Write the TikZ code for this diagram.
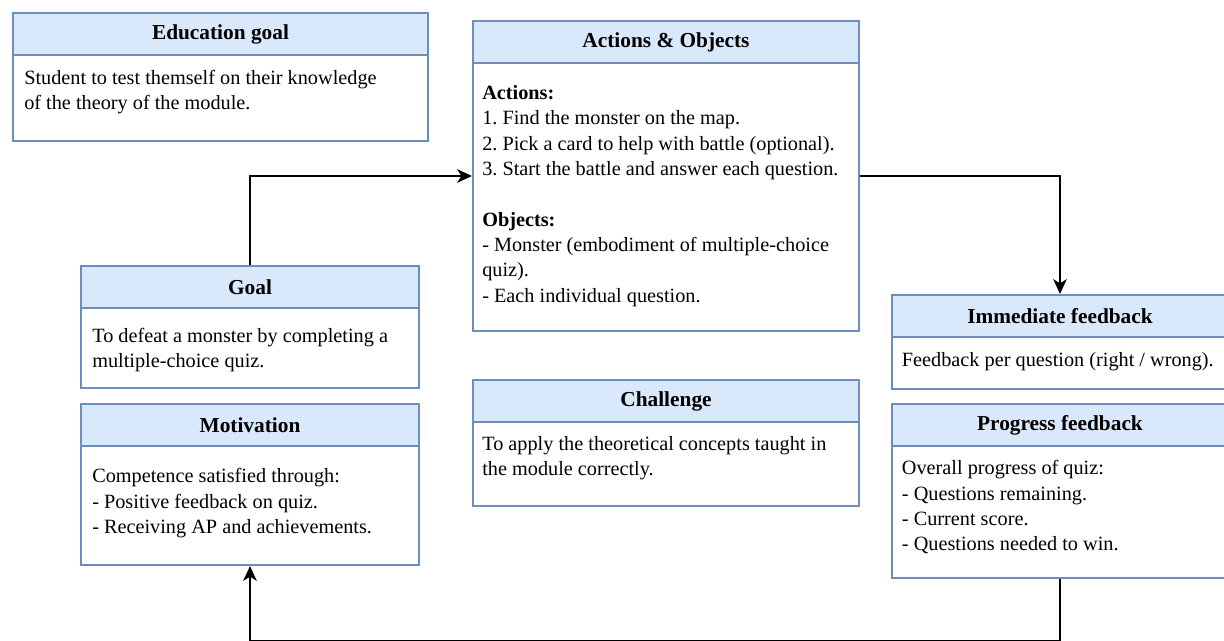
\documentclass[tikz,border=0pt]{standalone}
\usepackage{fontspec}
\setmainfont{Liberation Serif}
\usetikzlibrary{arrows.meta,positioning}
\definecolor{laneline}{HTML}{6C8EBF}
\definecolor{lanefill}{HTML}{DAE8FC}
\frenchspacing

\tikzset{
  lane/.style={draw=laneline,fill=white,line width=1.5pt,inner sep=0pt,
    anchor=north west},
  lanehead/.style={draw=laneline,fill=lanefill,line width=1.5pt,inner sep=0pt,
    anchor=north,minimum height=31.5pt,font=\fontsize{16}{19}\selectfont\bfseries},
  lanetext/.style={inner sep=0pt,align=left,
    font=\fontsize{15.2}{19}\selectfont},
  flow/.style={-{Stealth[length=11pt,width=10pt,inset=3pt]},line width=2pt,black}
}

\begin{document}
\begin{tikzpicture}[x=0.75pt,y=-0.75pt]
    \useasboundingbox (0,0) rectangle (1224,641);
    % education goal
    \node[lane,minimum width=311.25pt,minimum height=96pt] (edu) at (12,12) {};
    \node[lanehead,minimum width=311.25pt] (eduh) at (edu.north) {Education goal};
    \node[lanetext,below right=10.5pt and 9pt of eduh.south west]
      {Student to test themself on their knowledge\\of the theory of the module.};
    % actions and objects
    \node[lane,minimum width=289.5pt,minimum height=232.5pt] (act) at (472,20) {};
    \node[lanehead,minimum width=289.5pt] (acth) at (act.north) {Actions \& Objects};
    \node[lanetext,below right=16pt and 7.5pt of acth.south west]
      {\textbf{Actions:}\\
       1. Find the monster on the map.\\
       2. Pick a card to help with battle (optional).\\
       3. Start the battle and answer each question.\\[19pt]
       \textbf{Objects:}\\
       - Monster (embodiment of multiple-choice\\
       quiz).\\
       - Each individual question.};
    % goal
    \node[lane,minimum width=253.5pt,minimum height=91.5pt] (goal) at (80,265) {};
    \node[lanehead,minimum width=253.5pt] (goalh) at (goal.north) {Goal};
    \node[lanetext,below right=14pt and 9pt of goalh.south west]
      {To defeat a monster by completing a\\multiple-choice quiz.};
    % motivation
    \node[lane,minimum width=253.5pt,minimum height=120.75pt] (mot) at (80,403) {};
    \node[lanehead,minimum width=253.5pt] (moth) at (mot.north) {Motivation};
    \node[lanetext,below right=16pt and 9pt of moth.south west]
      {Competence satisfied through:\\
       - Positive feedback on quiz.\\
       - Receiving AP and achievements.};
    % challenge
    \node[lane,minimum width=289.5pt,minimum height=94.5pt] (chal) at (472,379) {};
    \node[lanehead,minimum width=289.5pt] (chalh) at (chal.north) {Challenge};
    \node[lanetext,below right=10pt and 7.5pt of chalh.south west]
      {To apply the theoretical concepts taught in\\the module correctly.};
    % immediate feedback
    \node[lane,minimum width=252pt,minimum height=70.5pt] (imm) at (891,294) {};
    \node[lanehead,minimum width=252pt] (immh) at (imm.north) {Immediate feedback};
    \node[lanetext,below right=10.5pt and 8pt of immh.south west]
      {Feedback per question (right / wrong).};
    % progress feedback
    \node[lane,minimum width=252pt,minimum height=130.5pt] (prog) at (891,403) {};
    \node[lanehead,minimum width=252pt] (progh) at (prog.north) {Progress feedback};
    \node[lanetext,below right=10pt and 8pt of progh.south west]
      {Overall progress of quiz:\\
       - Questions remaining.\\
       - Current score.\\
       - Questions needed to win.};
    % connectors
    \draw[flow] (goal.north) |- (act.west);
    \draw[flow] (act.east) -| (imm.north);
    \draw[flow] (prog.south) -- ++(0,62) -| (mot.south);
  \end{tikzpicture}
\end{document}
